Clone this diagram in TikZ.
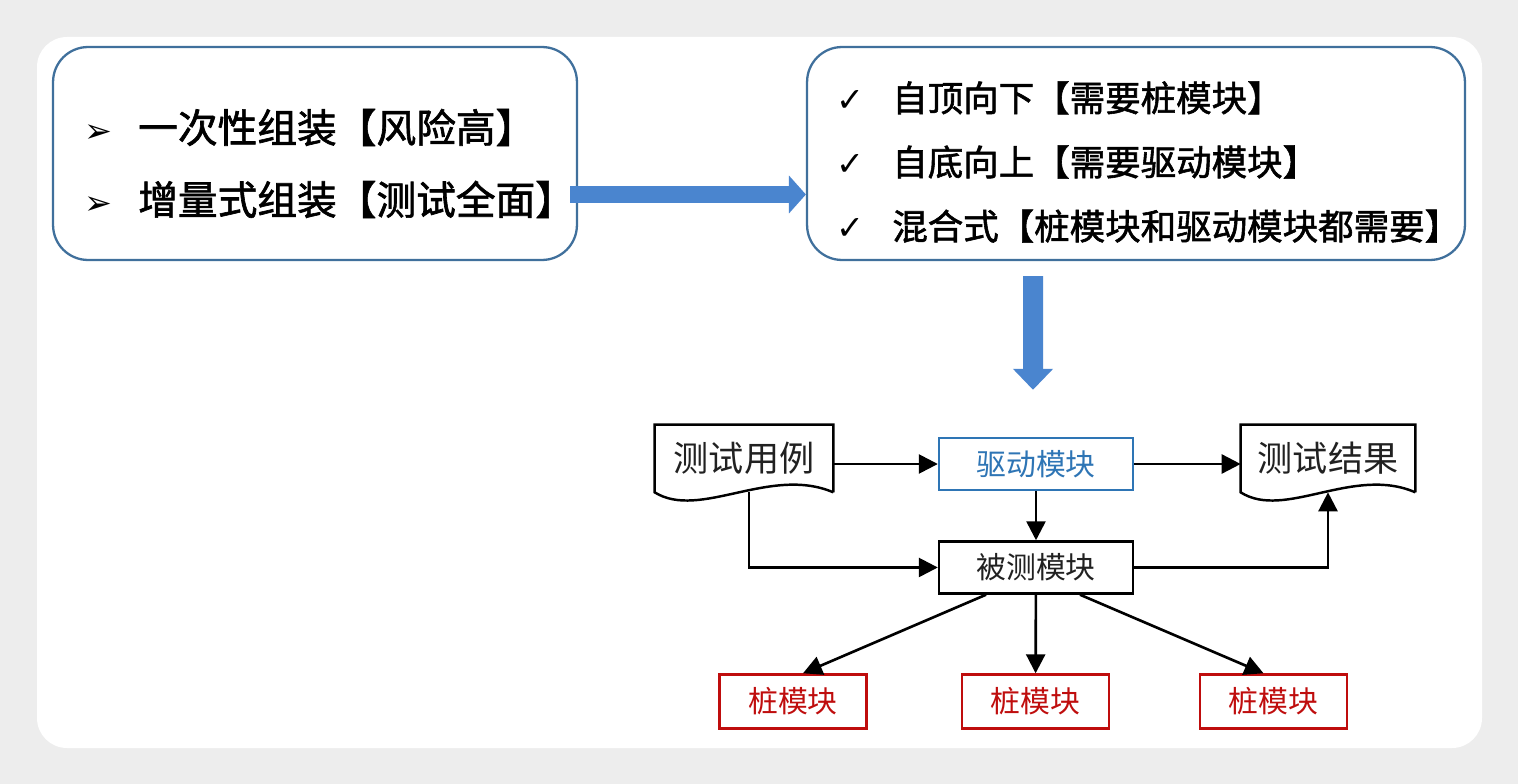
\documentclass[tikz,border=0pt]{standalone}
\usepackage{fontspec}
\usepackage{tikz}
\usetikzlibrary{arrows.meta}
\setmainfont{Noto Sans CJK SC}
\newfontfamily\heavyfont{Noto Sans CJK SC}[FakeBold=1.6]
\newfontfamily\symfont{DejaVu Sans}
\definecolor{frame-gray}{rgb}{0.93, 0.93, 0.93}
\definecolor{office-blue}{rgb}{0.25, 0.44, 0.61}
\definecolor{arrow-blue}{rgb}{0.29, 0.52, 0.81}
\definecolor{drv-blue}{rgb}{0.18, 0.46, 0.71}
\definecolor{stub-red}{rgb}{0.75, 0.05, 0.05}
\definecolor{ink}{rgb}{0.13, 0.13, 0.13}

\begin{document}
\begin{tikzpicture}[x=0.02cm, y=-0.02cm, node distance=2.07cm,
		roundbox/.style={draw=office-blue, line width=1.3pt, rounded corners=0.7cm, minimum height=4.26cm},
		plainbox/.style={draw, line width=1.4pt, minimum width=3.88cm, minimum height=1.04cm, font=\fontsize{17}{17}\selectfont, text=ink},
		stubbox/.style={draw=stub-red, line width=1.4pt, minimum width=2.94cm, minimum height=1.08cm, font=\fontsize{17}{17}\selectfont, text=stub-red},
		docnode/.style={inner sep=0pt, minimum height=1.34cm, font=\fontsize{20}{20}\selectfont, text=ink},
		line/.style={line width=1.5pt, -{Triangle[length=0.38cm, width=0.38cm]}},
		fatarrow/.style={draw=arrow-blue, fill=arrow-blue}]
		% Draw the frame
		\fill[frame-gray] (0,0) rectangle (1518,784);
		\fill[white, rounded corners=0.6cm] (37,37) rectangle (1482,748);
		
		% Draw the two strategy boxes
		\node (onestep) [roundbox, minimum width=10.48cm] at (315,153.5) {};
		\node (onesteptext) [anchor=west, inner sep=0pt, align=left, text=black, font=\heavyfont\fontsize{22.6}{41}\selectfont] at ([xshift=0.64cm, yshift=-0.2cm]onestep.west)
			{\makebox[1.08cm][l]{\symfont\fontsize{19}{19}\selectfont ➢}一次性组装【风险高】\\
			 \makebox[1.08cm][l]{\symfont\fontsize{19}{19}\selectfont ➢}增量式组装【测试全面】};
		\node (mode) [roundbox, minimum width=13.16cm] at (1136,153.5) {};
		\node (modetext) [anchor=west, inner sep=0pt, align=left, text=black, font=\heavyfont\fontsize{20.2}{36.5}\selectfont] at ([xshift=0.6cm, yshift=-0.17cm]mode.west)
			{\makebox[1.12cm][l]{\symfont\fontsize{19}{19}\selectfont ✓}自顶向下【需要桩模块】\\
			 \makebox[1.12cm][l]{\symfont\fontsize{19}{19}\selectfont ✓}自底向上【需要驱动模块】\\
			 \makebox[1.12cm][l]{\symfont\fontsize{19}{19}\selectfont ✓}混合式【桩模块和驱动模块都需要】};
		
		% Draw the test documents
		\node (case) [docnode, minimum width=3.56cm] at (744,458.5) {测试用例};
		\draw[line width=1.4pt] (case.south east) -- (case.north east) -- (case.north west) -- (case.south west)
			.. controls +(45,28) and +(-63,-27) .. (case.south east);
		\node (result) [docnode, minimum width=3.48cm] at (1328,458.5) {测试结果};
		\draw[line width=1.4pt] (result.south east) -- (result.north east) -- (result.north west) -- (result.south west)
			.. controls +(44,28) and +(-62,-27) .. (result.south east);
		
		% Draw the driver and the module under test
		\node (driver) [plainbox, draw=drv-blue, text=drv-blue] at (1036,464) {驱动模块};
		\node (dut) [plainbox, below of=driver] {被测模块};
		
		% Draw the stubs
		\node (stubmid) [stubbox] at (1035.5,701.5) {桩模块};
		\node (stubleft) [stubbox] at (793,701.5) {桩模块};
		\node (stubright) [stubbox] at (1273.5,701.5) {桩模块};
		
		% Draw the big arrows
		\draw[fatarrow, line width=0.34cm, -{Triangle[length=0.34cm, width=0.74cm]}] ([xshift=-0.16cm, yshift=-0.82cm]onestep.east) -- ([yshift=-0.82cm]mode.west);
		\draw[fatarrow, line width=0.4cm, -{Triangle[length=0.42cm, width=0.78cm]}] ([xshift=-2.06cm, yshift=-0.3cm]mode.south) -- ([xshift=-0.06cm, yshift=0.94cm]driver.north);
		
		% Connect the blocks with arrows
		\draw[line] (case.east |- driver.west) -- (driver.west);
		\draw[line] (driver.east) -- (driver.east -| result.west);
		\draw[line] (driver) -- (dut);
		\draw[line] ([xshift=0.1cm]case.south) |- (dut.west);
		\draw[line] (dut.east) -| (result.south);
		\draw[line] ([xshift=-1cm]dut.south) -- ([xshift=0.2cm]stubleft.north);
		\draw[line] (dut) -- (stubmid);
		\draw[line] ([xshift=0.88cm]dut.south) -- ([xshift=-0.2cm]stubright.north);
\end{tikzpicture}
\end{document}
